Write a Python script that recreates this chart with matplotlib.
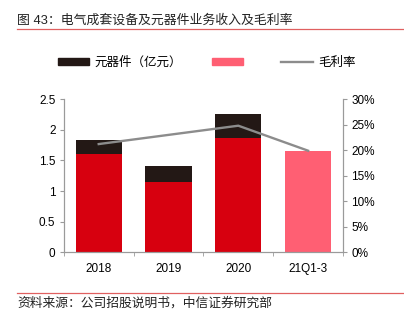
import numpy as np
import matplotlib.pyplot as plt
from matplotlib.patches import Patch
from matplotlib.lines import Line2D

plt.rcParams['font.family'] = ['Liberation Sans', 'Noto Sans CJK SC']

# revenue, 100m CNY, and gross margin (%)
periods = ['2018', '2019', '2020', '21Q1-3']
equipment = [1.60, 1.14, 1.87, 0]
components = [0.24, 0.265, 0.385, 0]
ytd_total = [0, 0, 0, 1.66]
margin = [21.2, 23.0, 24.8, 19.9]

red = '#D7000F'
dark = '#231815'
pink = '#FF5F73'
gray = '#8C8C8C'
axis_gray = '#9A9A9A'

fig = plt.figure(figsize=(4.04, 3.23), dpi=100)
ax = fig.add_axes([0.158, 0.219, 0.691, 0.474])
ax2 = ax.twinx()

x = np.arange(len(periods))
w = 0.66
ax.bar(x, equipment, w, color=red, zorder=2)
ax.bar(x, components, w, bottom=equipment, color=dark, zorder=2)
ax.bar(x, ytd_total, w, color=pink, zorder=2)

ax2.plot(x, margin, color=gray, lw=1.7, zorder=3)
ax.set_zorder(1)
ax2.set_zorder(2)
ax.patch.set_visible(False)

ax.set_xlim(-0.5, 3.5)
ax.set_ylim(0, 2.5)
ax.set_yticks(np.arange(0, 2.51, 0.5))
ax.set_yticklabels(['0', '0.5', '1', '1.5', '2', '2.5'])
ax2.set_ylim(0, 30)
ax2.set_yticks(np.arange(0, 31, 5))
ax2.set_yticklabels([f'{v}%' for v in range(0, 31, 5)])

# category labels centred, ticks at the boundaries
ax.set_xticks(x)
ax.set_xticklabels(periods)
ax.set_xticks(np.arange(-0.5, 3.6, 1), minor=True)
ax.tick_params(axis='x', which='major', length=0, pad=8, labelsize=8.5)
ax.tick_params(axis='x', which='minor', length=3, color=axis_gray)
ax.tick_params(axis='y', length=3, color=axis_gray, labelsize=8.5, pad=3)
ax2.tick_params(axis='y', length=3, color=axis_gray, labelsize=8.5, pad=3)

for a in (ax, ax2):
    a.spines['top'].set_visible(False)
    for s in ('left', 'right', 'bottom'):
        a.spines[s].set_color(axis_gray)
        a.spines[s].set_linewidth(0.8)

handles = [Patch(color=dark), Patch(color=pink),
           Line2D([0], [0], color=gray, lw=1.7)]
labels = ['元器件（亿元）', ' ', '毛利率']
fig.legend(handles, labels, loc='center', bbox_to_anchor=(0.512, 0.805),
           ncol=3, frameon=False, fontsize=9, handlelength=2.5,
           handleheight=0.5, handletextpad=0.45, columnspacing=2.35)

fig.text(0.042, 0.935, '图 43：电气成套设备及元器件业务收入及毛利率',
         fontsize=9.3, color='#222222', va='center', ha='left')
fig.add_artist(Line2D([0.042, 1.0], [0.91, 0.91], color='#E06060', lw=0.9))
fig.add_artist(Line2D([0.042, 1.0], [0.093, 0.093], color='#E06060', lw=0.9))
fig.text(0.042, 0.062, '资料来源：公司招股说明书，中信证券研究部',
         fontsize=9.2, color='#222222', va='center', ha='left')

fig.savefig('out.png', dpi=100)
